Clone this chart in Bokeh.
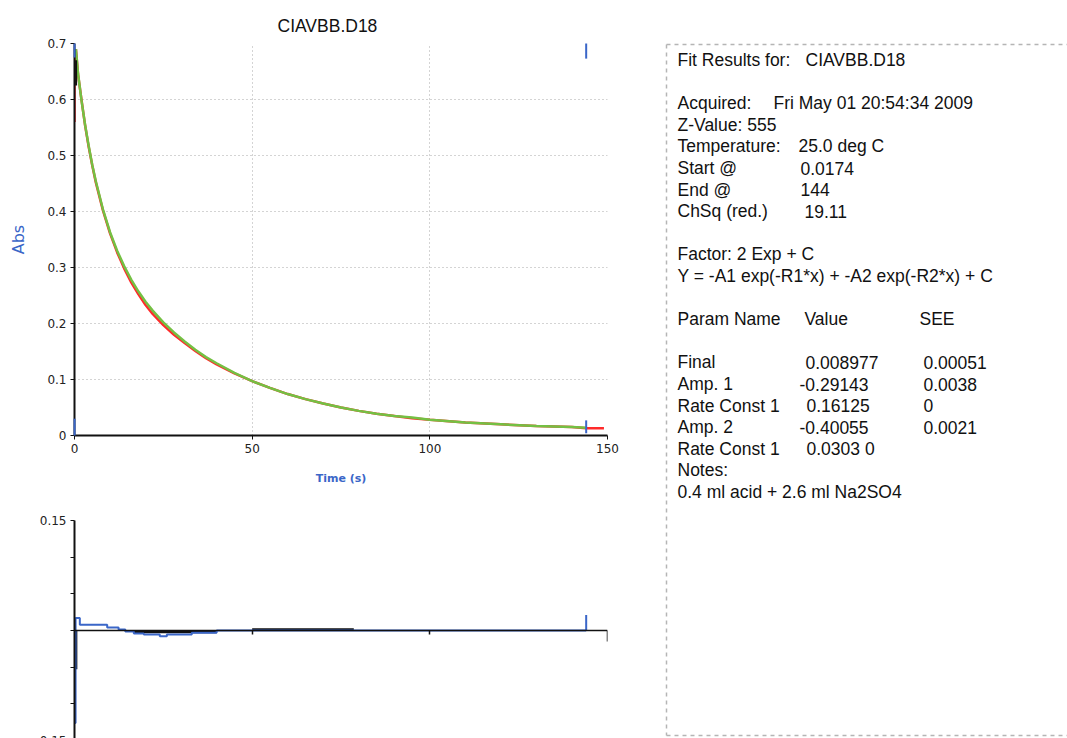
from bokeh.plotting import figure
from bokeh.models import Range1d, FixedTicker, LinearAxis, Title
from bokeh.layouts import row, column
from bokeh.core.properties import value
from bokeh.embed import file_html
from bokeh.resources import INLINE

# ---------------- data ----------------
title_text = "CIAVBB.D18"

data_t = [0, 0, 0.4, 1, 2, 3, 4, 5, 6, 8, 10, 12, 14, 16, 18, 20, 22, 25, 28, 31, 34,
          37, 40, 45, 50, 55, 60, 65, 70, 75, 80, 85, 90, 95, 100, 110, 120, 130, 140, 144, 149]
data_abs = [0.56, 0.63, 0.69, 0.645, 0.598, 0.553, 0.515, 0.482, 0.452, 0.402, 0.361, 0.327,
            0.298, 0.273, 0.252, 0.233, 0.217, 0.197, 0.180, 0.165, 0.151, 0.138, 0.127, 0.111,
            0.097, 0.085, 0.074, 0.065, 0.057, 0.050, 0.044, 0.039, 0.035, 0.031, 0.028, 0.023,
            0.020, 0.017, 0.015, 0.013, 0.013]

fit_t = [0.4, 1, 2, 3, 4, 5, 6, 8, 10, 12, 14, 16, 18, 20, 22, 25, 28, 31, 34, 37, 40, 45, 50,
         55, 60, 65, 70, 75, 80, 85, 90, 95, 100, 110, 120, 130, 140, 144]
fit_abs = [0.69, 0.646, 0.597, 0.554, 0.517, 0.483, 0.454, 0.404, 0.363, 0.330, 0.302, 0.278,
           0.257, 0.239, 0.223, 0.202, 0.184, 0.168, 0.153, 0.140, 0.129, 0.112, 0.097, 0.085,
           0.074, 0.065, 0.057, 0.050, 0.044, 0.039, 0.035, 0.032, 0.028, 0.023, 0.020, 0.017,
           0.015, 0.014]

pre_t = [0.45, 0.45]
pre_abs = [0.625, 0.67]

cursor_t = [0.0174, 144.0]
cursor_low0 = [0.0, 0.004]
cursor_low1 = [0.03, 0.027]
cursor_high0 = [0.675, 0.673]
cursor_high1 = [0.7, 0.7]

res_t = [0, 0.3, 1.5, 9.2, 12.4, 14.3, 16.7, 19.5, 24, 26, 33, 40, 144]
res_val = [-0.126, 0.017, 0.008, 0.004, 0.0014, -0.0014, -0.004, -0.0054, -0.008, -0.0054,
           -0.003, 0.0, 0.0]
black_res_xs = [[0.45, 0.45], [16.7, 40.0], [50.0, 78.6]]
black_res_ys = [[-0.053, 0.0], [-0.002, -0.002], [0.0015, 0.0015]]
res_cursor_t = [144.0]
res_cursor0 = [0.0]
res_cursor1 = [0.021]

x_ticks = [0, 50, 100, 150]
y_ticks = [0, 0.1, 0.2, 0.3, 0.4, 0.5, 0.6, 0.7]
res_label_ticks = [-0.15, 0.15]
res_small_ticks = [-0.1, -0.05, 0, 0.05, 0.1]
res_x_small_ticks = [50, 100]
res_x_end_tick = [150]

# info panel: (line index, column x, text)
info_rows = [
    (0, 19, "Fit Results for:"), (0, 147, "CIAVBB.D18"),
    (2, 19, "Acquired:"), (2, 115, "Fri May 01 20:54:34 2009"),
    (3, 19, "Z-Value: 555"),
    (4, 19, "Temperature:"), (4, 140, "25.0 deg C"),
    (5, 19, "Start @"), (5, 142, "0.0174"),
    (6, 19, "End @"), (6, 142, "144"),
    (7, 19, "ChSq (red.)"), (7, 146, "19.11"),
    (9, 19, "Factor: 2 Exp + C"),
    (10, 19, "Y = -A1 exp(-R1*x) + -A2 exp(-R2*x) + C"),
    (12, 19, "Param Name"), (12, 146, "Value"), (12, 261, "SEE"),
    (14, 19, "Final"), (14, 147, "0.008977"), (14, 265, "0.00051"),
    (15, 19, "Amp. 1"), (15, 141, "-0.29143"), (15, 265, "0.0038"),
    (16, 19, "Rate Const 1"), (16, 148, "0.16125"), (16, 265, "0"),
    (17, 19, "Amp. 2"), (17, 141, "-0.40055"), (17, 265, "0.0021"),
    (18, 19, "Rate Const 1"), (18, 148, "0.0303  0"),
    (19, 19, "Notes:"),
    (20, 19, "0.4 ml acid + 2.6 ml Na2SO4"),
]

BLUE = "#3a66c8"
TICKFONT = "DejaVu Sans"

# ---------------- main plot ----------------
main = figure(width=658, height=488, x_range=Range1d(0, 150), y_range=Range1d(0, 0.7),
              output_backend="svg", toolbar_location=None,
              min_border_left=74, min_border_right=51, min_border_top=43, min_border_bottom=53)
main.outline_line_color = None
main.title = Title(text=title_text, align="left", offset=203, standoff=15,
                   text_font="Liberation Sans", text_font_size="17.5px",
                   text_font_style="normal", text_color="#111111")

main.xaxis.ticker = FixedTicker(ticks=x_ticks)
main.yaxis.ticker = FixedTicker(ticks=y_ticks)
main.xgrid.ticker = FixedTicker(ticks=x_ticks)
main.ygrid.ticker = FixedTicker(ticks=y_ticks)
main.yaxis.major_label_overrides = {0: "0"}
main.grid.grid_line_dash = "1 3"
main.grid.grid_line_color = "#a8a8a8"
main.grid.grid_line_width = 1
for ax in (main.xaxis[0], main.yaxis[0]):
    ax.axis_line_color = "#111111"
    ax.axis_line_width = 2
    ax.major_tick_line_color = "#111111"
    ax.major_tick_out = 4
    ax.major_tick_in = 0
    ax.minor_tick_out = 0
    ax.minor_tick_in = 0
    ax.major_label_text_font = TICKFONT
    ax.major_label_text_font_size = "12px"
    ax.major_label_text_color = "#222222"
    ax.major_label_standoff = 4
    ax.axis_label_text_color = BLUE
    ax.axis_label_text_font = TICKFONT
main.xaxis.axis_label = "Time (s)"
main.xaxis.axis_label_text_font_size = "11px"
main.xaxis.axis_label_text_font_style = "bold"
main.xaxis.axis_label_standoff = 16
main.yaxis.axis_label = "Abs"
main.yaxis.axis_label_text_font_size = "16px"
main.yaxis.axis_label_text_font_style = "normal"
main.yaxis.axis_label_standoff = 16

main.line(data_t, data_abs, line_color="#ff2a2a", line_width=2.5)
main.line(fit_t, fit_abs, line_color="#74c043", line_width=2.5)
main.line(pre_t, pre_abs, line_color="#111111", line_width=2)
main.segment(x0=cursor_t, y0=cursor_low0, x1=cursor_t, y1=cursor_low1,
             line_color=BLUE, line_width=2, level="overlay")
main.segment(x0=cursor_t, y0=cursor_high0, x1=cursor_t, y1=cursor_high1,
             line_color=BLUE, line_width=2, level="overlay")

# ---------------- residual plot ----------------
resid = figure(width=658, height=280, x_range=Range1d(0, 150), y_range=Range1d(-0.15, 0.15),
               x_axis_type=None, output_backend="svg", toolbar_location=None,
               min_border_left=74, min_border_right=51, min_border_top=32, min_border_bottom=28)
resid.outline_line_color = None
resid.grid.visible = False
ya = resid.yaxis[0]
ya.ticker = FixedTicker(ticks=res_label_ticks, minor_ticks=res_small_ticks)
ya.axis_line_color = "#111111"
ya.axis_line_width = 2
ya.major_tick_line_color = "#111111"
ya.minor_tick_line_color = "#111111"
ya.major_tick_out = 4
ya.major_tick_in = 0
ya.minor_tick_out = 4
ya.minor_tick_in = 0
ya.major_label_text_font = TICKFONT
ya.major_label_text_font_size = "12px"
ya.major_label_text_color = "#222222"
ya.major_label_standoff = 4

xa = LinearAxis(fixed_location=0, ticker=FixedTicker(ticks=[], minor_ticks=res_x_small_ticks),
                major_tick_out=0, major_tick_in=0, minor_tick_out=4, minor_tick_in=0,
                axis_line_color="#111111", axis_line_width=1.5,
                minor_tick_line_color="#111111", minor_tick_line_width=1.5)
resid.add_layout(xa, "below")
xa2 = LinearAxis(fixed_location=0, ticker=FixedTicker(ticks=[], minor_ticks=res_x_end_tick),
                 major_tick_out=0, major_tick_in=0, minor_tick_out=11, minor_tick_in=0,
                 axis_line_alpha=0, minor_tick_line_color="#111111", minor_tick_line_width=1.5)
resid.add_layout(xa2, "below")

resid.multi_line(xs=black_res_xs, ys=black_res_ys, line_color="#111111", line_width=2.5)
resid.step(res_t, res_val, mode="after", line_color=BLUE, line_width=2)
resid.segment(x0=res_cursor_t, y0=res_cursor0, x1=res_cursor_t, y1=res_cursor1,
              line_color=BLUE, line_width=2)

# ---------------- info panel ----------------
PW, PH = 409, 768
panel = figure(width=PW, height=PH, x_range=Range1d(0, PW), y_range=Range1d(PH, 0),
               x_axis_type=None, y_axis_type=None, output_backend="svg",
               toolbar_location=None, min_border=0)
panel.outline_line_color = None
panel.grid.visible = False
panel.multi_line(xs=[[8, PW + 20], [8, 8], [8, PW + 20]], ys=[[44, 44], [44, 735], [735, 735]],
                 line_color="#b5b5b5", line_width=1.5, line_dash="4 4")
panel.text(x=[r[1] for r in info_rows], y=[59.5 + 21.6 * r[0] for r in info_rows],
           text=[r[2] for r in info_rows], text_font=value("Liberation Sans"),
           text_font_size=value("17.5px"), text_baseline="middle", text_align="left",
           text_color="#111111")

layout = row(column(main, resid), panel)
open("out.html", "w").write(file_html(layout, INLINE))
